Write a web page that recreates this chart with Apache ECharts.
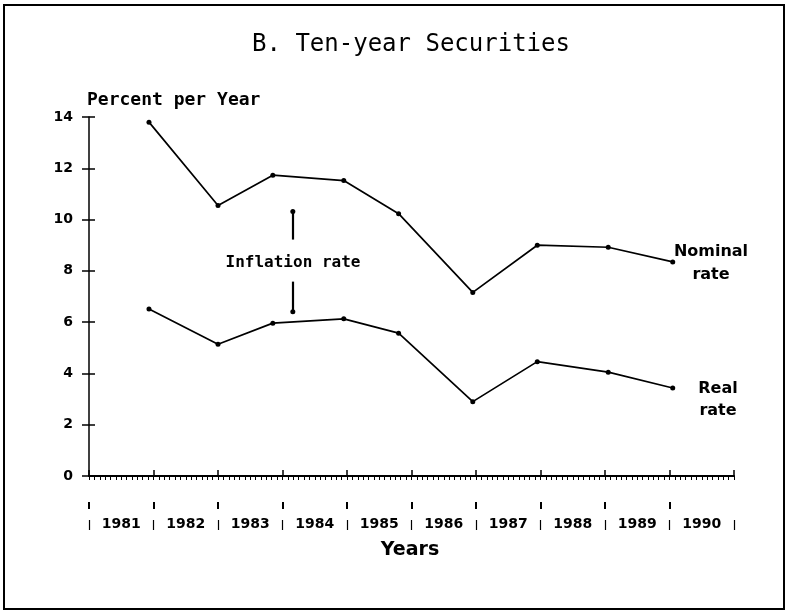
<!DOCTYPE html>
<html>
<head>
<meta charset="utf-8">
<script src="https://cdn.jsdelivr.net/npm/echarts@6/dist/echarts.min.js"></script>
<style>html,body{margin:0;padding:0;background:#fff}#c{width:788px;height:611px}</style>
</head>
<body>
<div id="c"></div>
<script>
var years = ['1981','1982','1983','1984','1985','1986','1987','1988','1989','1990'];
var boundaryYears = ['1981','1982','1983','1984','1985','1986','1987','1988','1989','1990','1991'];
var pointX = [1981.93, 1983.0, 1983.85, 1984.95, 1985.8, 1986.95, 1987.95, 1989.05, 1990.05];
var nominalRate = [13.8, 10.55, 11.73, 11.52, 10.23, 7.16, 9.0, 8.92, 8.35];
var realRate = [6.51, 5.14, 5.96, 6.13, 5.57, 2.9, 4.46, 4.05, 3.43];
var yTicks = [0, 2, 4, 6, 8, 10, 12, 14];
var arrowX = 1984.16;
var arrowUpper = [10.31, 9.22];
var arrowLower = [7.58, 6.41];

var F = '"DejaVu Sans", sans-serif';
var M = '"DejaVu Sans Mono", monospace';
function pairs(xs, ys){ return xs.map(function(x,i){return [x, ys[i]];}); }

var chart = echarts.init(document.getElementById('c'), null, {renderer:'canvas'});
var option = {
  backgroundColor: '#fff',
  animation: false,
  grid: {left: 89, right: 54, top: 117, bottom: 135},
  xAxis: [
    { type: 'value', min: 1981, max: 1991, interval: 1,
      axisLine: {lineStyle: {color: '#000', width: 2}},
      axisTick: {show: true, inside: false, length: 4, lineStyle: {color: '#000', width: 1}},
      minorTick: {show: true, splitNumber: 12, length: 4, lineStyle: {color: '#000', width: 1}},
      axisLabel: {show: false}, splitLine: {show: false}, minorSplitLine: {show: false} },
    { type: 'value', min: 1981, max: 1991, interval: 1, position: 'bottom',
      axisLine: {show: false},
      axisTick: {show: true, inside: true, length: 6, lineStyle: {color: '#000', width: 1.5}},
      axisLabel: {show: false}, splitLine: {show: false} },
    { type: 'category', data: boundaryYears, boundaryGap: false, position: 'bottom', offset: 26,
      axisLine: {show: false},
      axisTick: {show: true, length: 7, interval: function(i){ return i < 10; }, lineStyle: {color: '#000', width: 2}},
      axisLabel: {show: false}, splitLine: {show: false} },
    { type: 'category', data: years, boundaryGap: true, position: 'bottom', offset: 44,
      axisLine: {show: false},
      axisTick: {show: true, length: 10, alignWithLabel: false, lineStyle: {color: '#000', width: 1.2}},
      axisLabel: {show: true, interval: 0, margin: -3, color: '#000', fontFamily: F, fontWeight: 'bold', fontSize: 14},
      splitLine: {show: false} }
  ],
  yAxis: [
    { type: 'value', min: 0, max: 14, interval: 2,
      axisLine: {show: true, lineStyle: {color: '#000', width: 1.5}},
      axisTick: {show: true, inside: false, length: 7, lineStyle: {color: '#000', width: 1.5}},
      axisLabel: {show: true, margin: 16, color: '#000', fontFamily: F, fontWeight: 'bold', fontSize: 14,
        formatter: function(v){ return yTicks.indexOf(v) >= 0 ? String(v) : ''; }},
      splitLine: {show: false} },
    { type: 'value', min: 0, max: 14, interval: 2, position: 'left',
      axisLine: {show: false},
      axisTick: {show: true, inside: true, length: 6, lineStyle: {color: '#000', width: 1.5}},
      axisLabel: {show: false}, splitLine: {show: false} }
  ],
  series: [
    { name: 'Nominal rate', type: 'line', data: pairs(pointX, nominalRate),
      xAxisIndex: 0, yAxisIndex: 0,
      symbol: 'circle', symbolSize: 5, showSymbol: true,
      lineStyle: {color: '#000', width: 1.7}, itemStyle: {color: '#000'},
      markLine: {
        silent: true, symbol: ['circle', 'none'], symbolSize: 5, label: {show: false},
        lineStyle: {color: '#000', width: 2.2, type: 'solid'},
        data: [
          [{coord: [arrowX, arrowUpper[0]]}, {coord: [arrowX, arrowUpper[1]]}],
          [{coord: [arrowX, arrowLower[1]]}, {coord: [arrowX, arrowLower[0]]}]
        ]
      } },
    { name: 'Real rate', type: 'line', data: pairs(pointX, realRate),
      xAxisIndex: 0, yAxisIndex: 0,
      symbol: 'circle', symbolSize: 5, showSymbol: true,
      lineStyle: {color: '#000', width: 1.7}, itemStyle: {color: '#000'} }
  ],
  graphic: [
    { type: 'rect', shape: {x: 4, y: 5, width: 780, height: 604}, style: {fill: 'none', stroke: '#000', lineWidth: 2}, silent: true },
    { type: 'text', x: 411, y: 45, style: {text: 'B. Ten-year Securities', font: '24px ' + M, fill: '#000', textAlign: 'center', textVerticalAlign: 'middle'} },
    { type: 'text', x: 87, y: 100, style: {text: 'Percent per Year', font: 'bold 18px ' + M, fill: '#000', textAlign: 'left', textVerticalAlign: 'middle'} },
    { type: 'text', x: 293, y: 263, style: {text: 'Inflation rate', font: 'bold 16px ' + M, fill: '#000', textAlign: 'center', textVerticalAlign: 'middle'} },
    { type: 'text', x: 711, y: 252, style: {text: 'Nominal', font: 'bold 16px ' + F, fill: '#000', textAlign: 'center', textVerticalAlign: 'middle'} },
    { type: 'text', x: 711, y: 275, style: {text: 'rate', font: 'bold 16px ' + F, fill: '#000', textAlign: 'center', textVerticalAlign: 'middle'} },
    { type: 'text', x: 718, y: 389, style: {text: 'Real', font: 'bold 16px ' + F, fill: '#000', textAlign: 'center', textVerticalAlign: 'middle'} },
    { type: 'text', x: 718, y: 411, style: {text: 'rate', font: 'bold 16px ' + F, fill: '#000', textAlign: 'center', textVerticalAlign: 'middle'} },
    { type: 'text', x: 410, y: 550, style: {text: 'Years', font: 'bold 19px ' + F, fill: '#000', textAlign: 'center', textVerticalAlign: 'middle'} }
  ]
};
chart.setOption(option);
</script>
</body>
</html>
